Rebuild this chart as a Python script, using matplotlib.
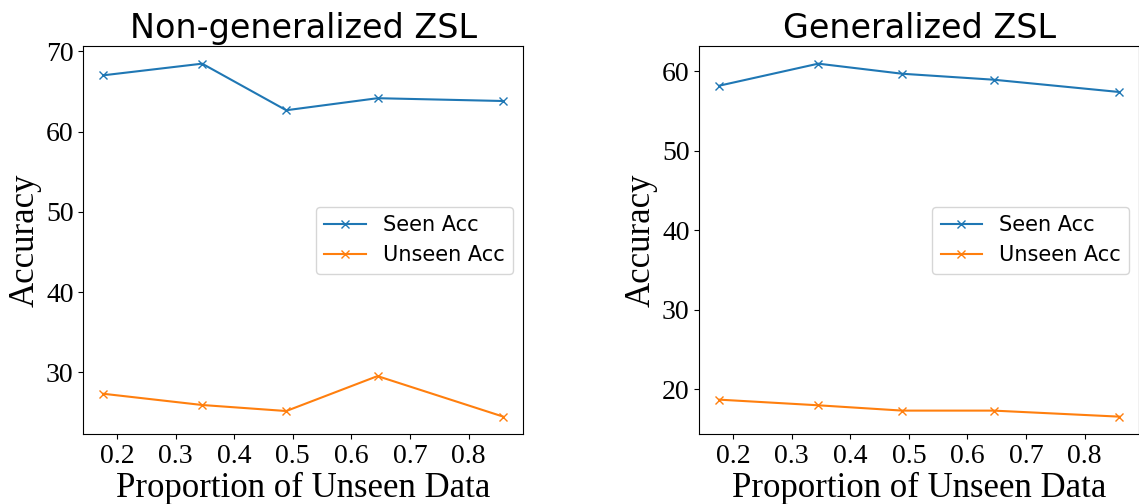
import numpy as np
import matplotlib
matplotlib.use('Agg')
import matplotlib.pyplot as plt

# Proportion of unseen classes (x axis, same for both panels)
proportion = [0.1766, 0.3454, 0.4889, 0.6447, 0.8593]

# Non-generalized ZSL
ngzsl_seen = [67.0, 68.45, 62.65, 64.15, 63.8]
ngzsl_unseen = [27.35, 25.95, 25.2, 29.55, 24.5]

# Generalized ZSL
gzsl_seen = [58.2, 60.97, 59.7, 58.95, 57.4]
gzsl_unseen = [18.66, 17.95, 17.28, 17.28, 16.52]

panels = [
    ('Non-generalized ZSL', ngzsl_seen, ngzsl_unseen),
    ('Generalized ZSL', gzsl_seen, gzsl_unseen),
]

serif = 'Liberation Serif'
sans = 'DejaVu Sans'

fig = plt.figure(figsize=(11.39, 5.04), dpi=100)
ax_boxes = [
    [0.0731, 0.1383, 0.3863, 0.7704],
    [0.6140, 0.1383, 0.3863, 0.7704],
]

for box, (title, seen, unseen) in zip(ax_boxes, panels):
    ax = fig.add_axes(box)
    ax.plot(proportion, seen, marker='x', color='#1f77b4', label='Seen Acc')
    ax.plot(proportion, unseen, marker='x', color='#ff7f0e', label='Unseen Acc')

    ax.set_title(title, fontsize=24, fontname=sans)
    ax.set_xlabel('Proportion of Unseen Data', fontsize=25, fontname=serif, labelpad=2)
    ax.set_ylabel('Accuracy', fontsize=25, fontname=serif, labelpad=3)
    ax.set_xticks([0.2, 0.3, 0.4, 0.5, 0.6, 0.7, 0.8])
    for lbl in ax.get_xticklabels() + ax.get_yticklabels():
        lbl.set_fontname(serif)
        lbl.set_fontsize(20)
    ax.legend(loc='center right', prop={'family': sans, 'size': 15})

fig.savefig('out.png', dpi=100)
